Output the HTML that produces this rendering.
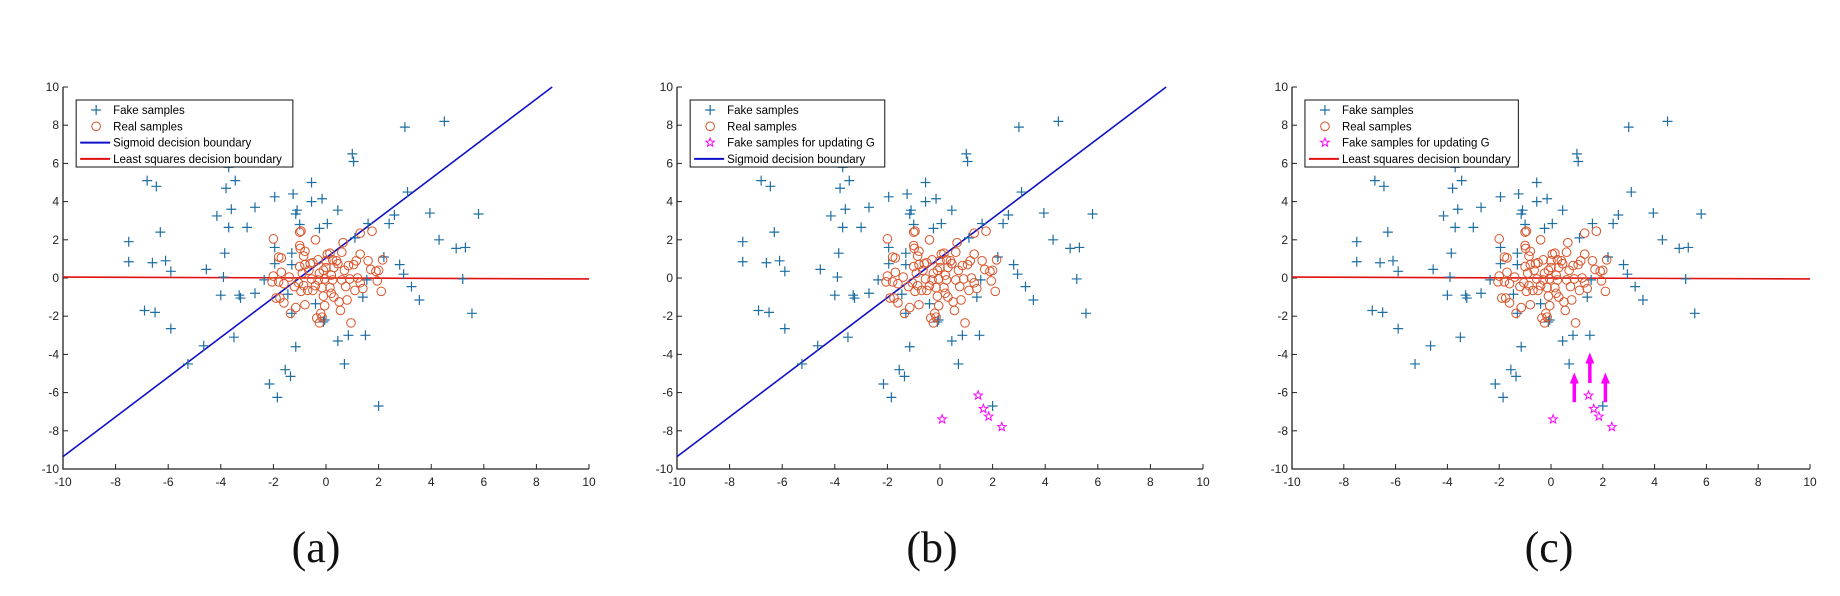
<!DOCTYPE html>
<html><head><meta charset="utf-8">
<style>
html,body{margin:0;padding:0;background:#fff;}
svg{display:block;font-family:"Liberation Sans",Arial,sans-serif;}
.tick{font-size:12px;fill:#222;}
.leg{font-size:11.5px;fill:#000;}
.cap{font-family:"Liberation Serif",serif;font-size:44px;fill:#111;}
</style></head>
<body>
<svg id="fig" width="1840" height="596" viewBox="0 0 1840 596"></svg>
<script>
const fakeX=[-7.5,-7.5,-6.8,-6.45,-6.6,-6.3,-6.1,-5.9,-6.9,-6.5,-5.9,-4.55,-4.65,-5.25,-4.15,-3.8,-3.45,-3.6,-3.7,-3.85,-3.9,-4.0,-3.3,-3.25,-3.5,-3.0,-2.7,-2.7,-1.95,-1.95,-1.95,-2.35,-1.25,-1.1,-1.15,-1.0,-1.3,-1.3,-1.45,-1.3,-1.15,-1.55,-1.35,-2.15,-1.85,-0.55,-0.55,-0.15,-0.25,0.05,-0.4,-0.05,0.45,0.45,0.85,0.7,1.0,1.05,1.1,1.6,1.55,1.4,1.5,2.0,2.2,2.4,2.6,3.0,3.1,2.8,2.95,3.25,3.55,3.95,4.3,4.5,4.95,5.3,5.2,5.8,5.55,-3.7,-0.1];
const fakeY=[1.9,0.85,5.1,4.8,0.8,2.4,0.9,0.35,-1.7,-1.8,-2.65,0.45,-3.55,-4.5,3.25,4.7,5.1,3.6,2.65,1.3,0.05,-0.9,-0.9,-1.05,-3.1,2.65,3.7,-0.8,4.25,1.6,0.75,-0.1,4.4,3.55,3.35,2.8,1.3,0.7,-0.85,-1.85,-3.6,-4.8,-5.15,-5.55,-6.25,5.0,4.0,4.15,2.6,2.85,-1.35,-2.2,3.55,-3.3,-3.0,-4.5,6.5,6.1,2.1,2.85,-0.1,-1.0,-3.0,-6.7,1.1,2.85,3.3,7.9,4.5,0.7,0.2,-0.45,-1.15,3.4,2.0,8.2,1.55,1.6,-0.05,3.35,-1.85,5.8,-2.3];
const realX=[-2.0,-1.8,-1.7,-1.7,-2.0,-2.05,-1.8,-1.6,-1.9,-1.75,-1.6,-1.35,-1.15,-0.8,-1.0,-0.95,-1.0,-0.98,-0.8,-0.85,-1.0,-0.8,-0.9,-0.65,-1.05,-0.85,-0.95,-0.7,-0.5,-0.4,-0.3,-0.25,-0.3,-0.4,-0.5,-0.15,-0.1,-0.05,-0.2,-0.15,-0.35,-0.25,0.0,0.15,0.25,0.0,0.3,0.2,-0.05,0.25,0.15,0.2,0.3,0.5,0.55,0.45,0.65,0.7,0.6,0.75,0.8,0.95,0.9,1.05,1.15,1.3,1.3,1.2,1.3,1.4,1.6,1.7,1.75,1.9,2.0,1.95,2.1,2.15,-1.2,-0.6,0.4,0.05,-0.55,-1.4,1.1,0.85,-0.1,0.6];
const realY=[2.05,1.1,1.05,0.3,0.1,-0.2,-0.2,-0.3,-1.05,-1.05,-1.3,-1.85,-1.55,-1.4,2.4,2.45,1.7,1.55,1.4,1.15,0.6,0.7,0.25,0.4,-0.25,-0.4,-0.7,-0.65,0.8,2.0,0.95,0.25,-0.1,-0.4,-0.65,-0.5,-0.95,-1.45,-1.85,-2.05,-2.1,-2.35,0.9,1.3,0.95,0.55,0.55,0.15,-0.05,-0.1,-0.5,-0.8,-1.0,-1.25,-1.7,0.75,1.85,0.4,-0.1,-0.45,-1.15,-2.35,-0.05,0.7,0.9,2.35,1.25,0.0,-0.25,-0.55,0.9,0.45,2.45,0.35,0.4,-0.15,-0.7,0.95,-0.45,0.75,0.9,1.25,-0.05,0.05,-0.65,0.65,0.4,1.35];
const starX=[0.08,1.45,1.65,1.85,2.35];
const starY=[-7.4,-6.15,-6.85,-7.25,-7.8];
const sigmoidX=[-10,8.6];
const sigmoidY=[-9.35,10];
const lsqX=[-10,10];
const lsqY=[0.05,-0.05];
const arrowX=[0.9,1.5,2.1];
const arrowFrom=[-6.5,-5.5,-6.5];
const arrowTo=[-4.95,-3.9,-4.95];
const ticks=[-10,-8,-6,-4,-2,0,2,4,6,8,10];

const NS='http://www.w3.org/2000/svg';
const svg=document.getElementById('fig');
function mk(tag,attrs,parent){const e=document.createElementNS(NS,tag);for(const k in attrs)e.setAttribute(k,attrs[k]);(parent||svg).appendChild(e);return e;}

const panels=[
 {id:'a',x0:63,x1:589,legW:0.412,items:['fake','real','sig','lsq'],stars:false,sig:true,lsq:true,arrows:false,cap:'(a)',cx:316},
 {id:'b',x0:677,x1:1203,legW:0.37,items:['fake','real','star','sig'],stars:true,sig:true,lsq:false,arrows:false,cap:'(b)',cx:932},
 {id:'c',x0:1292,x1:1810,legW:0.412,items:['fake','real','star','lsq'],stars:true,sig:false,lsq:true,arrows:true,cap:'(c)',cx:1549}
];
const Y0=87,Y1=469;
const FAKE='#1f6fa3',REAL='#d9542a',MAG='#ff00ff';

function starPath(cx,cy,r){let d='';for(let i=0;i<10;i++){const a=-Math.PI/2+i*Math.PI/5;const rr=i%2?r*0.42:r;d+=(i?'L':'M')+(cx+rr*Math.cos(a)).toFixed(2)+','+(cy+rr*Math.sin(a)).toFixed(2);}return d+'Z';}

panels.forEach(p=>{
 const g=mk('g',{});
 
 
 const sx=v=>p.x0+(v+10)/20*(p.x1-p.x0);
 const sy=v=>Y1-(v+10)/20*(Y1-Y0);
 // axes
 const ax=mk('path',{d:`M${p.x0},${Y0}V${Y1}H${p.x1}`,fill:'none',stroke:'#222','stroke-width':1.3},g);
 
 
 ticks.forEach(t=>{
  mk('line',{x1:sx(t),x2:sx(t),y1:Y1,y2:Y1-5,stroke:'#222','stroke-width':1},g);
  mk('line',{x1:p.x0,x2:p.x0+5,y1:sy(t),y2:sy(t),stroke:'#222','stroke-width':1},g);
  const tx=mk('text',{x:sx(t),y:Y1+17,'text-anchor':'middle',class:'tick'},g);tx.textContent=t;
  
  
  const ty=mk('text',{x:p.x0-4,y:sy(t)+4,'text-anchor':'end',class:'tick'},g);ty.textContent=t;
  
  
 });
 // lines
 if(p.sig){const l=mk('line',{x1:sx(sigmoidX[0]),y1:sy(sigmoidY[0]),x2:sx(sigmoidX[1]),y2:sy(sigmoidY[1]),stroke:'#1010c8','stroke-width':1.6},g);
  
  }
 if(p.lsq){const l=mk('line',{x1:sx(lsqX[0]),y1:sy(lsqY[0]),x2:sx(lsqX[1]),y2:sy(lsqY[1]),stroke:'#e01010','stroke-width':1.6},g);
  
  }
 // fake
 fakeX.forEach((x,i)=>{const X=sx(x),Yv=sy(fakeY[i]);
  const m=mk('path',{d:`M${X-5},${Yv}H${X+5}M${X},${Yv-5}V${Yv+5}`,stroke:FAKE,'stroke-width':1.2,fill:'none'},g);
  
  });
 realX.forEach((x,i)=>{
  const m=mk('circle',{cx:sx(x),cy:sy(realY[i]),r:4.3,stroke:REAL,'stroke-width':1,fill:'none'},g);
  
  });
 if(p.stars){starX.forEach((x,i)=>{
  const m=mk('path',{d:starPath(sx(x),sy(starY[i]),4.5),stroke:MAG,'stroke-width':1,fill:'none'},g);
  
  });}
 if(p.arrows){arrowX.forEach((x,i)=>{
  const X=sx(x),ya=sy(arrowFrom[i]),yb=sy(arrowTo[i]);
  const a=mk('path',{d:`M${X},${ya}V${yb+9}`,stroke:MAG,'stroke-width':3.5,fill:'none'},g);
  
  
  const h=mk('path',{d:`M${X-4.5},${yb+11}L${X},${yb}L${X+4.5},${yb+11}Z`,fill:MAG},g);
  
  });}
 // legend
 const W=p.x1-p.x0,lx=p.x0+0.025*W,lw=p.legW*W,ly=100,lh=67;
 const lg=mk('g',{},g);
 
 
 mk('rect',{x:lx,y:ly,width:lw,height:lh,fill:'#fff',stroke:'#111','stroke-width':1},lg);
 const labels={fake:'Fake samples',real:'Real samples',star:'Fake samples for updating G',sig:'Sigmoid decision boundary',lsq:'Least squares decision boundary'};
 p.items.forEach((it,k)=>{
  const ry=ly+10+k*16.3,mx=lx+20;
  if(it==='fake')mk('path',{d:`M${mx-5},${ry}H${mx+5}M${mx},${ry-5}V${ry+5}`,stroke:FAKE,'stroke-width':1.2},lg);
  if(it==='real')mk('circle',{cx:mx,cy:ry,r:4.3,stroke:REAL,fill:'none'},lg);
  if(it==='star')mk('path',{d:starPath(mx,ry,4.5),stroke:MAG,fill:'none'},lg);
  if(it==='sig')mk('line',{x1:lx+4,x2:lx+34,y1:ry,y2:ry,stroke:'#1010c8','stroke-width':2},lg);
  if(it==='lsq')mk('line',{x1:lx+4,x2:lx+34,y1:ry,y2:ry,stroke:'#e01010','stroke-width':2},lg);
  const t=mk('text',{x:lx+37,y:ry+4,class:'leg'},lg);t.textContent=labels[it];
  
  
 });
 const c=mk('text',{x:p.cx,y:562,'text-anchor':'middle',class:'cap'},g);c.textContent=p.cap;
 
 
});
</script>
</body></html>
